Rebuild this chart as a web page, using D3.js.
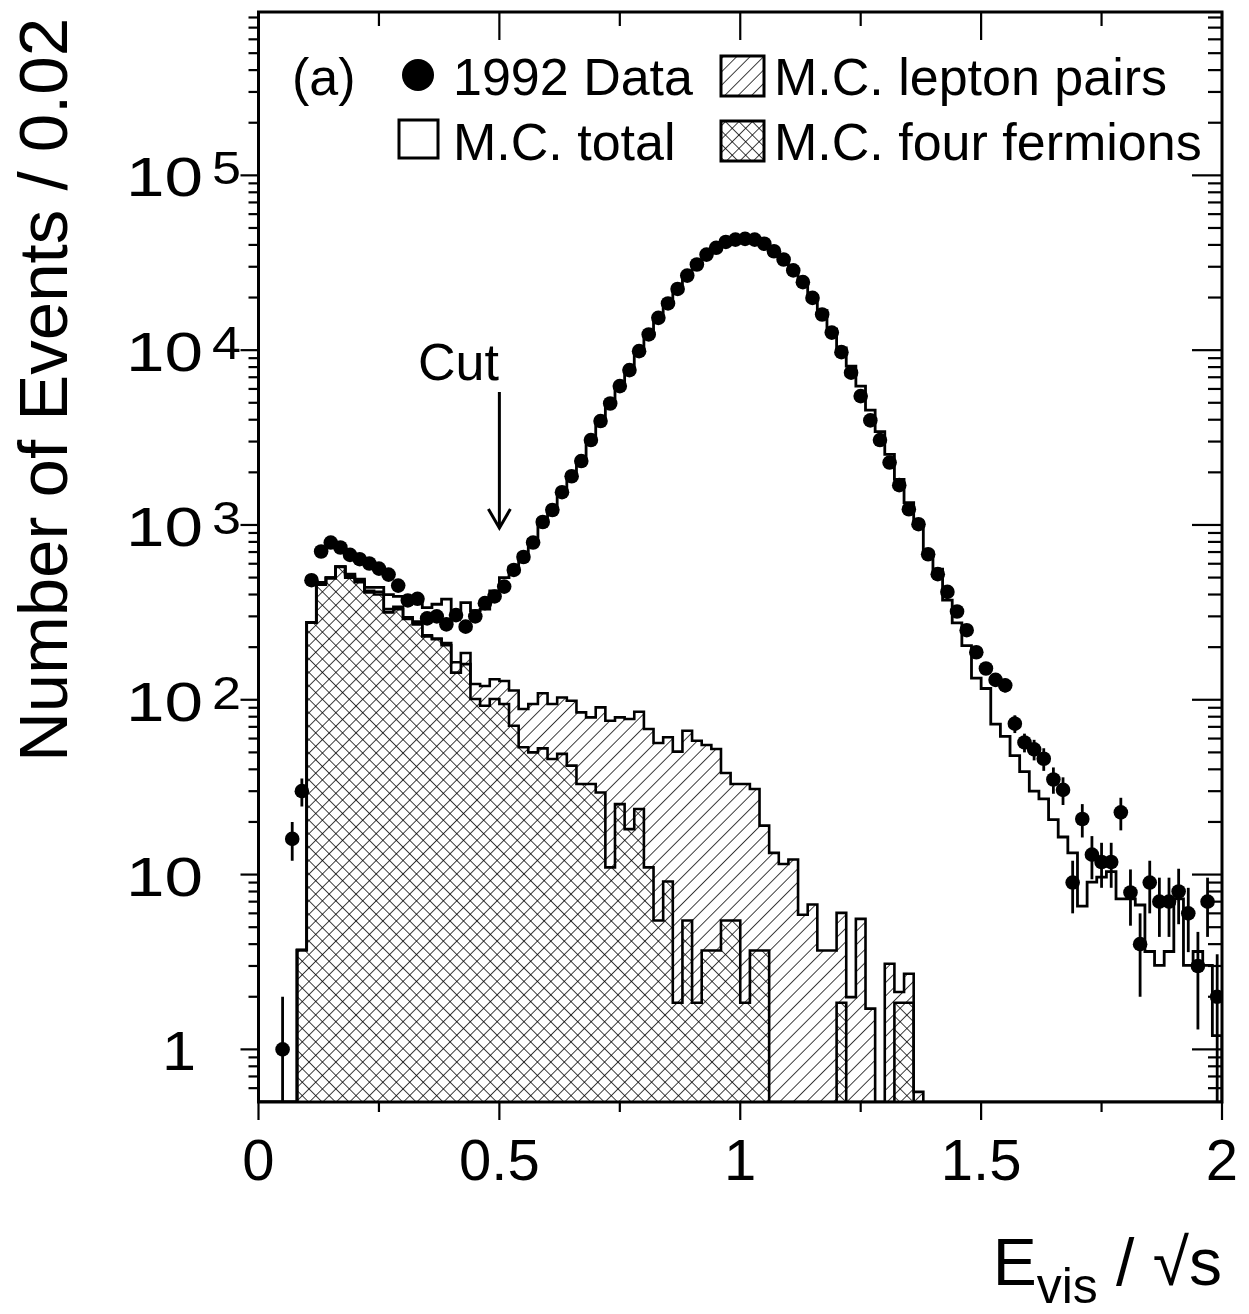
<!DOCTYPE html>
<html>
<head>
<meta charset="utf-8">
<script src="https://cdn.jsdelivr.net/npm/d3@7"></script>
<style>
  body { margin: 0; background: #fff; }
  text { font-family: "Liberation Sans", Arial, Helvetica, sans-serif; fill: #000; }
</style>
</head>
<body>
<svg id="chart" width="1249" height="1314"></svg>
<script>
// ---------------- DATA ----------------
const binWidth = 0.02;          // E_vis/sqrt(s) bin width
const nBins = 100;              // bins from 0 to 2

// 1992 Data: events per bin (null = no entry)
const dataCounts = [null,null,1,16,30,483,705,793,743,674,
  637,602,563,520,450,370,378,292,300,270,
  305,262,300,357,390,444,553,656,793,1040,
  1218,1540,1900,2321,3060,3930,4955,6230,7690,9870,
  12300,15300,18500,22400,26700,30900,35200,38500,41600,42900,
  43300,42900,40600,36800,33000,28600,24500,19900,16000,12600,
  9740,7430,5460,3965,3060,2275,1690,1230,1010,680,
  523,414,320,250,187,151,130,121,73,57,
  52,46,35,30.5,9,20.8,13,11.8,11.8,22.7,
  7.9,4,9,7,7,8,6,3,7,2];

// visible statistical errors on the data
const dataErrors = [0,0,1,4,5.5,0,0,0,0,0,
  0,0,0,0,0,0,0,0,0,0,
  0,0,0,0,0,0,0,0,0,0,
  0,0,0,0,0,0,0,0,0,0,
  0,0,0,0,0,0,0,0,0,0,
  0,0,0,0,0,0,0,0,0,0,
  0,0,0,0,0,0,0,0,0,0,
  0,0,0,0,0,0,11,11,8.5,7,
  7,6.8,6,5.5,3,4.5,3.6,3.4,3.4,4.8,
  2.8,2,3,2.6,2.6,2.8,2.4,1.7,2.6,1.5];

// M.C. total
const mcTotal = [0,0,0,0,3.7,277,470,500,578,523,
  490,440,440,400,390,385,375,337,352,376,
  323,360,323,330,420,500,575,680,828,1068,
  1250,1530,1900,2350,3000,3900,4950,6200,7700,9800,
  12300,15200,18600,22300,26600,30800,35000,38600,41500,43000,
  43400,42800,40800,37200,33300,29000,25000,20500,16800,13200,
  10300,8100,6230,4540,3420,2535,1824,1343,1010,701,
  558,372,275,204,133,116,72.6,61.8,47.9,38.8,
  30,27.1,20.6,16.4,13.3,6.6,9.05,9.67,10.4,7.26,
  7.26,6.7,3.63,3.02,3.63,7.26,3.02,3.63,3.02,1.2];

// M.C. lepton pairs, stacked on top of four fermions (top of hatched area)
const mcLeptonPairsStacked = [0,0,0,0,3.7,277,465,500,578,510,
  480,420,415,330,340,296,280,234,224,211,
  164,185,123,120,131,128,113,88.5,94.5,109,
  94.5,103,98.7,84.7,79.3,90.5,75.9,79.3,77.6,85.4,
  68,56.6,61,50.5,66.5,58.3,55.1,52.3,38.1,33,
  33,30.9,19.05,13.3,11.5,12.2,5.89,6.74,3.68,3.68,
  6.04,1.99,5.58,1.71,0,3.09,2.13,2.71,0.571,0,
  0,0,0,0,0,0,0,0,0,0,
  0,0,0,0,0,0,0,0,0,0,
  0,0,0,0,0,0,0,0,0,0];

// M.C. four fermions
const mcFourFermions = [0,0,0,0,3.7,277,455,495,575,500,
  470,411,400,316,330,290,270,230,222,205,
  143,160,101,92.4,101,94.5,71,53.5,50,52.7,
  45.8,49,42,33,33,29.5,11,25.3,18.2,23.7,
  11,5.46,9.12,1.85,5.46,1.85,3.68,3.68,5.46,5.46,
  1.85,3.68,3.68,0,0,0,0,0,0,0,
  1.85,0,0,0,0,0,1.85,1.85,0,0,
  0,0,0,0,0,0,0,0,0,0,
  0,0,0,0,0,0,0,0,0,0,
  0,0,0,0,0,0,0,0,0,0];

const xDomain = [0, 2];
const yDomain = [0.5, 8.6e5];
const xTickMajor = [0, 0.5, 1, 1.5, 2];
const xTickLabels = ["0", "0.5", "1", "1.5", "2"];
const xTickMinor = [0.25, 0.75, 1.25, 1.75];
const yTickMajor = [1, 10, 100, 1000, 10000, 100000];
const yTickBase = ["1", "10", "10", "10", "10", "10"];
const yTickExp = ["", "", "2", "3", "4", "5"];
const cutValue = 0.5;
const cutLabel = "Cut";
const panelLabel = "(a)";
const legendLabels = ["1992 Data", "M.C. total", "M.C. lepton pairs", "M.C. four fermions"];
const yTitle = "Number of Events / 0.02";

// ---------------- LAYOUT ----------------
const L = 258.5, R = 1222, T = 12, B = 1102;
const svg = d3.select("#chart");
const x = d3.scaleLinear().domain(xDomain).range([L, R]);
const y = d3.scaleLog().domain(yDomain).range([B, T]);

const defs = svg.append("defs");
defs.append("clipPath").attr("id", "plotclip")
  .append("rect").attr("x", L).attr("y", T).attr("width", R - L).attr("height", B - T);

const hs = 9.5;
const hatch = defs.append("pattern").attr("id", "hatch")
  .attr("patternUnits", "userSpaceOnUse").attr("width", hs).attr("height", hs)
  .attr("patternTransform", "rotate(45)");
hatch.append("rect").attr("width", hs).attr("height", hs).attr("fill", "#fff");
hatch.append("line").attr("x1", 0).attr("y1", 0).attr("x2", 0).attr("y2", hs)
  .attr("stroke", "#000").attr("stroke-width", 1.5);

const xhatch = defs.append("pattern").attr("id", "xhatch")
  .attr("patternUnits", "userSpaceOnUse").attr("width", hs).attr("height", hs)
  .attr("patternTransform", "rotate(45)");
xhatch.append("rect").attr("width", hs).attr("height", hs).attr("fill", "#fff");
xhatch.append("line").attr("x1", 0).attr("y1", 0).attr("x2", 0).attr("y2", hs)
  .attr("stroke", "#000").attr("stroke-width", 1.5);
xhatch.append("line").attr("x1", 0).attr("y1", 0).attr("x2", hs).attr("y2", 0)
  .attr("stroke", "#000").attr("stroke-width", 1.5);

// histogram step points
function stepPoints(vals) {
  const pts = [[x(0), B]];
  vals.forEach((v, i) => {
    const yy = (v && v >= yDomain[0]) ? y(v) : B;
    pts.push([x(i * binWidth), yy]);
    pts.push([x((i + 1) * binWidth), yy]);
  });
  pts.push([x(nBins * binWidth), B]);
  return pts;
}
const line = d3.line();

const plot = svg.append("g").attr("clip-path", "url(#plotclip)");

// lepton pairs (stacked) hatched area
plot.append("path").attr("d", line(stepPoints(mcLeptonPairsStacked)) + "Z")
  .attr("fill", "url(#hatch)").attr("stroke", "none");
// four fermions crosshatched area (covers hatch underneath)
plot.append("path").attr("d", line(stepPoints(mcFourFermions)) + "Z")
  .attr("fill", "url(#xhatch)").attr("stroke", "none");
// outlines
plot.append("path").attr("d", line(stepPoints(mcLeptonPairsStacked)))
  .attr("fill", "none").attr("stroke", "#000").attr("stroke-width", 2.6);
plot.append("path").attr("d", line(stepPoints(mcFourFermions)))
  .attr("fill", "none").attr("stroke", "#000").attr("stroke-width", 2.6);
plot.append("path").attr("d", line(stepPoints(mcTotal)))
  .attr("fill", "none").attr("stroke", "#000").attr("stroke-width", 2.8);

// data points with error bars
const pts = dataCounts.map((v, i) => ({ v, e: dataErrors[i], xc: (i + 0.5) * binWidth }))
  .filter(d => d.v != null);
plot.selectAll("line.err").data(pts.filter(d => d.e > 0)).join("line")
  .attr("class", "err")
  .attr("x1", d => x(d.xc)).attr("x2", d => x(d.xc))
  .attr("y1", d => y(d.v + d.e))
  .attr("y2", d => (d.v - d.e) > yDomain[0] ? y(d.v - d.e) : B)
  .attr("stroke", "#000").attr("stroke-width", 2.8);
plot.selectAll("circle.pt").data(pts).join("circle")
  .attr("class", "pt")
  .attr("cx", d => x(d.xc)).attr("cy", d => y(d.v)).attr("r", 7.3)
  .attr("fill", "#000");

// ---------------- AXES / FRAME ----------------
const ax = svg.append("g").attr("stroke", "#000");
function tick(x1, y1, x2, y2, w) {
  ax.append("line").attr("x1", x1).attr("y1", y1).attr("x2", x2).attr("y2", y2)
    .attr("stroke-width", w || 2.2);
}
// x ticks: bottom outward, top inward
xTickMajor.forEach(v => { tick(x(v), B, x(v), B + 18); tick(x(v), T, x(v), T + 28); });
xTickMinor.forEach(v => { tick(x(v), B, x(v), B + 10); tick(x(v), T, x(v), T + 14); });
// y ticks: left outward, right inward
const yMinor = [];
for (let e = -1; e <= 5; e++) {
  for (let m = 2; m <= 9; m++) {
    const v = m * Math.pow(10, e);
    if (v > yDomain[0] && v < yDomain[1]) yMinor.push(v);
  }
}
yTickMajor.forEach(v => { tick(L - 18, y(v), L, y(v)); tick(R - 30, y(v), R, y(v)); });
yMinor.forEach(v => { tick(L - 10, y(v), L, y(v)); tick(R - 14, y(v), R, y(v)); });

svg.append("rect").attr("x", L).attr("y", T).attr("width", R - L).attr("height", B - T)
  .attr("fill", "none").attr("stroke", "#000").attr("stroke-width", 3);

// x tick labels
svg.selectAll("text.xl").data(xTickMajor).join("text")
  .attr("class", "xl")
  .attr("x", d => x(d)).attr("y", 1180)
  .attr("text-anchor", "middle").attr("font-size", 58)
  .text((d, i) => xTickLabels[i]);

// y tick labels (wide digits as in the original)
yTickMajor.forEach((v, i) => {
  const yy = y(v);
  const one = yTickBase[i] === "1";
  svg.append("text").attr("x", one ? 196 : 203).attr("y", yy + 21)
    .attr("text-anchor", "end").attr("font-size", 55)
    .attr("textLength", one ? 34 : 77).attr("lengthAdjust", "spacingAndGlyphs")
    .text(yTickBase[i]);
  if (yTickExp[i]) {
    svg.append("text").attr("x", 212).attr("y", yy + 9)
      .attr("text-anchor", "start").attr("font-size", 46)
      .attr("textLength", 29).attr("lengthAdjust", "spacingAndGlyphs")
      .text(yTickExp[i]);
  }
});

// axis titles
svg.append("text").attr("transform", "translate(67,390) rotate(-90)")
  .attr("text-anchor", "middle").attr("font-size", 69).text(yTitle);

const xt = svg.append("text").attr("x", 1222).attr("y", 1285)
  .attr("text-anchor", "end").attr("font-size", 66);
xt.append("tspan").text("E");
xt.append("tspan").attr("font-size", 50).attr("dy", 18).text("vis");
xt.append("tspan").attr("dy", -18).text(" / \u221As");

// ---------------- CUT ARROW ----------------
const cx = x(cutValue);
svg.append("text").attr("x", cx - 41).attr("y", 380).attr("text-anchor", "middle")
  .attr("font-size", 52).text(cutLabel);
svg.append("line").attr("x1", cx).attr("y1", 392).attr("x2", cx).attr("y2", 527)
  .attr("stroke", "#000").attr("stroke-width", 3);
svg.append("path").attr("d", `M${cx - 11},${509}L${cx},${528}L${cx + 11},${509}`)
  .attr("fill", "none").attr("stroke", "#000").attr("stroke-width", 3);

// ---------------- LEGEND ----------------
svg.append("text").attr("x", 292).attr("y", 95).attr("font-size", 52).text(panelLabel);
svg.append("circle").attr("cx", 418).attr("cy", 75).attr("r", 16).attr("fill", "#000");
svg.append("text").attr("x", 453).attr("y", 95).attr("font-size", 52).text(legendLabels[0]);
svg.append("rect").attr("x", 399).attr("y", 120).attr("width", 39).attr("height", 38)
  .attr("fill", "#fff").attr("stroke", "#000").attr("stroke-width", 3);
svg.append("text").attr("x", 453).attr("y", 160).attr("font-size", 52).text(legendLabels[1]);
svg.append("rect").attr("x", 721).attr("y", 56).attr("width", 43).attr("height", 40)
  .attr("fill", "url(#hatch)").attr("stroke", "#000").attr("stroke-width", 3);
svg.append("text").attr("x", 774).attr("y", 95).attr("font-size", 52).text(legendLabels[2]);
svg.append("rect").attr("x", 721).attr("y", 121).attr("width", 43).attr("height", 40)
  .attr("fill", "url(#xhatch)").attr("stroke", "#000").attr("stroke-width", 3);
svg.append("text").attr("x", 774).attr("y", 160).attr("font-size", 52).text(legendLabels[3]);
</script>
</body>
</html>
